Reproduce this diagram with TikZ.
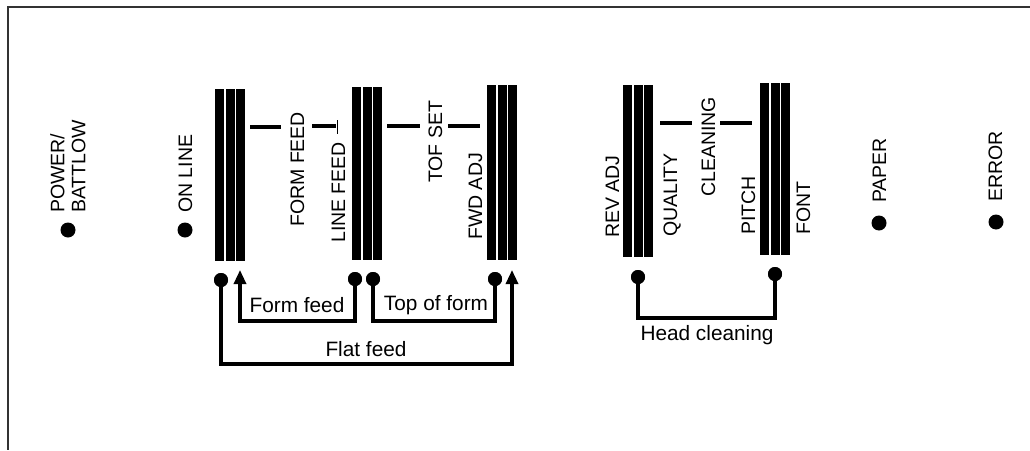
\documentclass[tikz,border=0pt]{standalone}
\usepackage{fontspec}
\setmainfont{Liberation Sans}
\usetikzlibrary{arrows.meta}
\begin{document}
\begin{tikzpicture}[x=1pt,y=-1pt,
  bar/.style={fill=black,draw=none,minimum width=9pt,inner sep=0pt,outer sep=0pt},
  led/.style={circle,fill=black,draw=none,minimum size=15pt,inner sep=0pt},
  pin/.style={circle,fill=black,draw=none,minimum size=14pt,inner sep=0pt},
  vlbl/.style={rotate=90,anchor=base west,inner sep=0pt,font=\fontsize{19.5}{21}\selectfont},
  hlbl/.style={inner sep=0pt,font=\fontsize{20.8}{23}\selectfont},
  conn/.style={line width=3.2pt},
  arr/.style={conn,-{Triangle[length=14pt,width=12pt]}},
  sep/.style={line width=3.6pt},
  tick/.style={line width=1.2pt},
  frame/.style={line width=1.5pt,black!80}]
\useasboundingbox (0,0) rectangle (1030,450);
% frame
\draw[frame] (1030,7) -- (8,7) -- (8,450);
% bars
\foreach \n/\x/\t/\b in {1/215/89/261, 2/352/87/260, 3/487/85/260, 4/623/85/257, 5/760/83/255}{
  \foreach \k/\dx in {a/0, b/10.5, c/21}{
    \node[bar, minimum height={\b-\t}] (g\n\k) at ({\x+\dx+4.5},{(\t+\b)/2}) {};
  }
}
% LEDs
\node[led] (pwr) at (68,230) {};
\node[led] (onl) at (185,230) {};
\node[led] (pap) at (879,223) {};
\node[led] (err) at (996,222) {};
% vertical labels
\node[rotate=90,anchor=north west,inner sep=0pt,align=left,font=\fontsize{19.5}{21}\selectfont] (lpwr) at (50,213) {POWER/\\BATTLOW};
\node[vlbl] (lonl) at (192,213) {ON LINE};
\node[vlbl] (lff) at (304,227) {FORM FEED};
\node[vlbl] (llf) at (345,243) {LINE FEED};
\node[vlbl] (ltof) at (442,183) {TOF SET};
\node[vlbl] (lfwd) at (482,240) {FWD ADJ};
\node[vlbl] (lrev) at (619,238) {REV ADJ};
\node[vlbl] (lqual) at (677,237) {QUALITY};
\node[vlbl] (lcln) at (715,197) {CLEANING};
\node[vlbl] (lpit) at (755,235) {PITCH};
\node[vlbl] (lfont) at (810,235) {FONT};
\node[vlbl] (lpap) at (886,203) {PAPER};
\node[vlbl] (lerr) at (1002,202) {ERROR};
% separator dashes
\draw[sep] (250,127) -- (281,127);
\draw[sep] (312,126) -- (336,126);
\draw[tick] (337.5,120) -- (337.5,134);
\draw[sep] (387,126) -- (420,126);
\draw[sep] (448,126) -- (480,126);
\draw[sep] (660,123) -- (692,123);
\draw[sep] (720,123) -- (752,123);
% connector pins and arrow targets
\node[pin] (p1) at (221,280) {};
\node[pin] (p2) at (355,279) {};
\node[pin] (p3) at (373,279) {};
\node[pin] (p4) at (495,279) {};
\node[pin] (p5) at (638,277) {};
\node[pin] (p6) at (775,274) {};
\coordinate (t1) at (240,270);
\coordinate (t2) at (512,270);
% connectors
\draw[arr] (p2.center) -- (p2.center |- 0,321) -| (t1);
\draw[conn] (p3.center) -- (p3.center |- 0,321) -| (p4.center);
\draw[arr] (p1.center) -- (p1.center |- 0,364) -| (t2);
\draw[conn] (p5.center) -- (p5.center |- 0,318) -| (p6.center);
\foreach \p in {p1,p2,p3,p4,p5,p6} \node[pin] at (\p) {};
% connector labels
\node[hlbl] (lfeed) at (297,305) {Form feed};
\node[hlbl] (ltop) at (436,305) {Top of form};
\node[hlbl] (lflat) at (366,349) {Flat feed};
\node[hlbl] (lhead) at (707,335) {Head cleaning};
\end{tikzpicture}
\end{document}
